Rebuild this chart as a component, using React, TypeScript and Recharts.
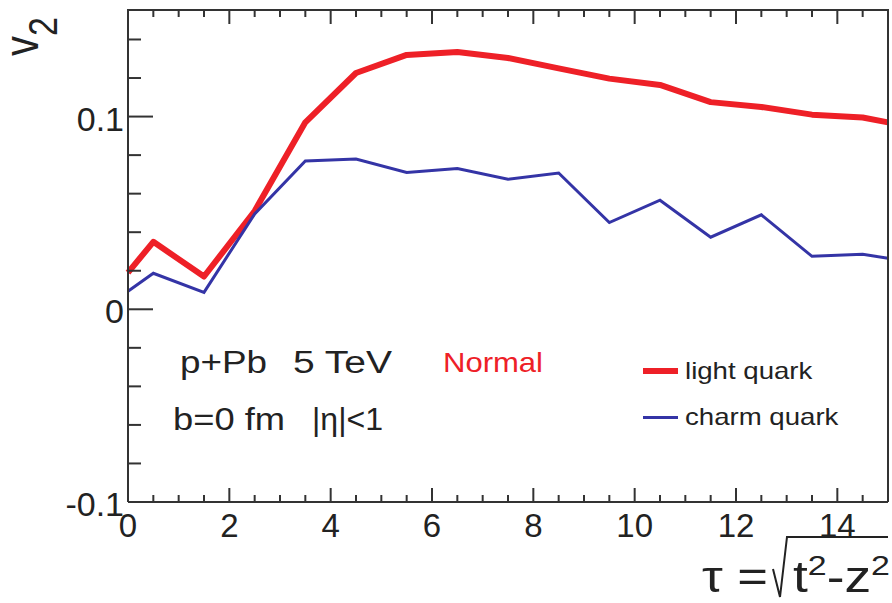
import { LineChart, Line, XAxis, YAxis, Legend } from "recharts";

const tau = [0, 0.5, 1.5, 2.5, 3.5, 4.5, 5.5, 6.5, 7.5, 8.5, 9.5, 10.5, 11.5, 12.5, 13.5, 14.5, 15];
const lightQuark = [0.019, 0.035, 0.017, 0.051, 0.097, 0.1226, 0.132, 0.1335, 0.1304, 0.125, 0.1197, 0.1164, 0.1075, 0.105, 0.101, 0.0995, 0.097];
const charmQuark = [0.0094, 0.0187, 0.0088, 0.0495, 0.077, 0.078, 0.071, 0.073, 0.0675, 0.0707, 0.045, 0.0566, 0.0374, 0.049, 0.0275, 0.0285, 0.0265];

const xTicks = [0, 0.5, 1, 1.5, 2, 2.5, 3, 3.5, 4, 4.5, 5, 5.5, 6, 6.5, 7, 7.5, 8, 8.5, 9, 9.5, 10, 10.5, 11, 11.5, 12, 12.5, 13, 13.5, 14, 14.5, 15];
const xLabels = [0, 2, 4, 6, 8, 10, 12, 14];
const xRange = [0, 15];
const yTicks = [-0.1, -0.08, -0.06, -0.04, -0.02, 0, 0.02, 0.04, 0.06, 0.08, 0.1, 0.12, 0.14];
const yLabels = [-0.1, 0, 0.1];
const yRange = [-0.1, 0.1553];

const seriesNames = ["light quark", "charm quark"];

const data = tau.map((t, i) => ({ tau: t, light: lightQuark[i], charm: charmQuark[i] }));

const CHART_W = 892;
const CHART_H = 603;
const MARGIN_TOP = 10;
const MARGIN_RIGHT = 3;
const X_AXIS_H = 101;
const Y_AXIS_W = 128;
const RIGHT_AXIS_W = 1;
const PLOT_H = CHART_H - MARGIN_TOP - X_AXIS_H;
const PLOT_W = CHART_W - Y_AXIS_W - RIGHT_AXIS_W - MARGIN_RIGHT;

const FONT = "'Liberation Sans', Arial, sans-serif";
const INK = "#222";
const FRAME = "#333";
const RED = "#ee2027";
const BLUE = "#3434a6";

const isMajorX = (v: number) => xLabels.includes(v);
const isMajorY = (v: number) => yLabels.some((l) => Math.abs(l - v) < 1e-9);
const xToPx = (v: number) => Y_AXIS_W + ((v - xRange[0]) / (xRange[1] - xRange[0])) * PLOT_W;

function BottomTick({ x, y, payload }: any) {
  const major = isMajorX(payload.value);
  return (
    <g>
      <line x1={x} x2={x} y1={y} y2={y - (major ? 14 : 7)} stroke={FRAME} strokeWidth={2} />
      {major && (
        <text x={x} y={y + 35} textAnchor="middle" fontSize={33} fill={INK} fontFamily={FONT}>
          {payload.value}
        </text>
      )}
    </g>
  );
}

function LeftTick({ x, y, payload }: any) {
  const major = isMajorY(payload.value);
  const v = Math.round(payload.value * 100) / 100;
  return (
    <g>
      <line x1={x} x2={x + (major ? 25 : 13)} y1={y} y2={y} stroke={FRAME} strokeWidth={2} />
      {major && (
        <text x={x - 4} y={y + 14} textAnchor="end" fontSize={34} fill={INK} fontFamily={FONT}>
          {v === 0 ? "0" : String(v)}
        </text>
      )}
    </g>
  );
}

function RightTick({ x, y, payload }: any) {
  const major = isMajorY(payload.value);
  return <line x1={x} x2={x - (major ? 25 : 13)} y1={y} y2={y} stroke={FRAME} strokeWidth={2} />;
}

function TauLabel({ viewBox }: any) {
  const r = viewBox.x + viewBox.width;
  const base = viewBox.y + 90;
  return (
    <g fill={INK} fontFamily={FONT}>
      <text x={r - 186} y={base} fontSize={44} textLength={66} lengthAdjust="spacingAndGlyphs">
        τ =
      </text>
      <polyline
        points={`${r - 115},${base - 23} ${r - 108},${base + 5} ${r - 101},${base - 55} ${r},${base - 55}`}
        fill="none"
        stroke={INK}
        strokeWidth={2}
      />
      <text x={r - 95} y={base} fontSize={44} textLength={97} lengthAdjust="spacingAndGlyphs">
        t<tspan dy={-17} fontSize={28}>2</tspan>
        <tspan dy={17}>-z</tspan>
        <tspan dy={-17} fontSize={28}>2</tspan>
      </text>
    </g>
  );
}

function V2Label() {
  return (
    <text transform="translate(38,56) rotate(-90) scale(1,1.2)" fontSize={40} fill={INK} fontFamily={FONT}>
      v<tspan dy={16} fontSize={34}>2</tspan>
    </text>
  );
}

const legendWidths: Record<string, number> = { "light quark": 6, "charm quark": 3 };

function QuarkLegend({ payload }: any) {
  const items = [...(payload || [])].sort(
    (a: any, b: any) => seriesNames.indexOf(a.value) - seriesNames.indexOf(b.value)
  );
  return (
    <div style={{ fontFamily: FONT }}>
      {items.map((p: any) => (
        <div key={p.value} style={{ display: "flex", alignItems: "center", height: 46 }}>
          <span
            style={{ display: "inline-block", width: 35, height: legendWidths[p.value], background: p.color, marginRight: 7 }}
          />
          <span
            style={{ display: "inline-block", fontSize: 24, color: INK, transform: "scaleX(1.15)", transformOrigin: "left center" }}
          >
            {p.value}
          </span>
        </div>
      ))}
    </div>
  );
}

export default function App() {
  return (
    <div style={{ position: "absolute", left: 0, top: 0, width: CHART_W, height: CHART_H, background: "#fff" }}>
      <LineChart
        width={CHART_W}
        height={CHART_H}
        data={data}
        margin={{ top: MARGIN_TOP, right: MARGIN_RIGHT, bottom: 0, left: 0 }}
      >
        <XAxis
          dataKey="tau"
          type="number"
          domain={xRange}
          ticks={xTicks}
          interval={0}
          height={X_AXIS_H}
          tickSize={0}
          tickMargin={0}
          tickLine={false}
          tick={<BottomTick />}
          axisLine={{ stroke: FRAME, strokeWidth: 2 }}
          label={(props: any) => <TauLabel {...props} />}
        />
        <YAxis
          type="number"
          domain={yRange}
          ticks={yTicks}
          interval={0}
          width={Y_AXIS_W}
          tickSize={0}
          tickMargin={0}
          tickLine={false}
          tick={<LeftTick />}
          axisLine={{ stroke: FRAME, strokeWidth: 2 }}
          label={() => <V2Label />}
        />
        <YAxis
          yAxisId="right"
          orientation="right"
          type="number"
          domain={yRange}
          ticks={yTicks}
          interval={0}
          width={RIGHT_AXIS_W}
          tickSize={0}
          tickMargin={0}
          tickLine={false}
          tick={<RightTick />}
          axisLine={{ stroke: FRAME, strokeWidth: 2 }}
        />
        <Line
          dataKey="light"
          name="light quark"
          stroke={RED}
          strokeWidth={6}
          strokeLinejoin="round"
          dot={false}
          isAnimationActive={false}
        />
        <Line
          dataKey="charm"
          name="charm quark"
          stroke={BLUE}
          strokeWidth={3}
          dot={false}
          isAnimationActive={false}
        />
        <Legend
          layout="vertical"
          align="center"
          verticalAlign="middle"
          content={<QuarkLegend />}
          wrapperStyle={{ left: 643, top: 348, width: 240 }}
        />
      </LineChart>
      <svg
        width={CHART_W}
        height={CHART_H}
        style={{ position: "absolute", left: 0, top: 0, pointerEvents: "none" }}
        fontFamily={FONT}
      >
        {/* top edge of the frame with its ticks */}
        <line
          x1={Y_AXIS_W - 1}
          x2={Y_AXIS_W + PLOT_W + 1}
          y1={MARGIN_TOP}
          y2={MARGIN_TOP}
          stroke={FRAME}
          strokeWidth={2}
        />
        {xTicks.map((t) => (
          <line
            key={t}
            x1={xToPx(t)}
            x2={xToPx(t)}
            y1={MARGIN_TOP}
            y2={MARGIN_TOP + (isMajorX(t) ? 14 : 7)}
            stroke={FRAME}
            strokeWidth={2}
          />
        ))}
        <text x={180} y={373} fontSize={31} fill={INK} textLength={87} lengthAdjust="spacingAndGlyphs">p+Pb</text>
        <text x={293} y={373} fontSize={31} fill={INK} textLength={99} lengthAdjust="spacingAndGlyphs">5 TeV</text>
        <text x={443} y={372} fontSize={28} fill={RED} textLength={100} lengthAdjust="spacingAndGlyphs">Normal</text>
        <text x={173} y={430} fontSize={31} fill={INK} textLength={112} lengthAdjust="spacingAndGlyphs">b=0 fm</text>
        <text x={312} y={430} fontSize={31} fill={INK} textLength={71} lengthAdjust="spacingAndGlyphs">|η|&lt;1</text>
      </svg>
    </div>
  );
}
